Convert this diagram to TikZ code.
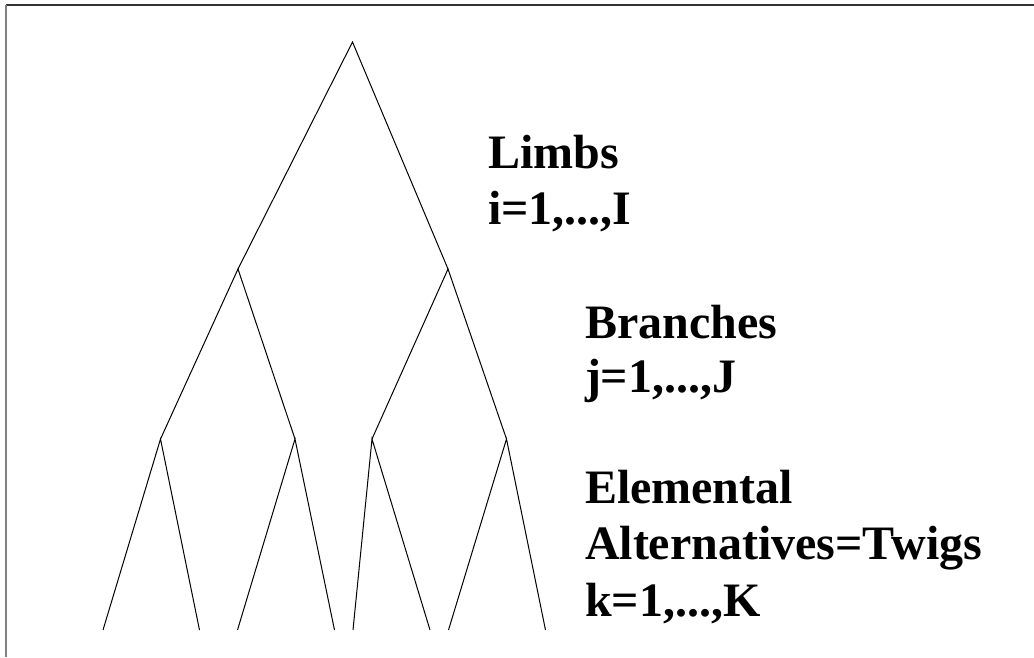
\documentclass[tikz,border=0pt]{standalone}
\usepackage{fontspec}
\setmainfont{Liberation Serif}
\tikzset{
  edge/.style={line width=1pt, black},
  label/.style={anchor=base west, inner sep=0pt, outer sep=0pt,
    font=\fontsize{48}{56}\selectfont\bfseries},
}
\begin{document}
\begin{tikzpicture}[x=1pt, y=-1pt]
\useasboundingbox (0,0) rectangle (1034,657);
% frame edges
\draw[line width=1.2pt, black!80] (6,5) -- (1034,5);
\draw[line width=1.6pt, black!50] (6,5) -- (6,657);
% tree levels
\coordinate (root) at (352.5,42);
\coordinate (a) at (238,269);
\coordinate (b) at (448,269);
\coordinate (aa) at (160.5,439);
\coordinate (ab) at (295,439);
\coordinate (ba) at (372,439);
\coordinate (bb) at (506.5,439);
\coordinate (t1) at (103,630);
\coordinate (t2) at (199.5,630);
\coordinate (t3) at (237.5,630);
\coordinate (t4) at (334.5,630);
\coordinate (t5) at (353,630);
\coordinate (t6) at (430,630);
\coordinate (t7) at (448.5,630);
\coordinate (t8) at (545.5,630);
\draw[edge] (a) -- (root) -- (b);
\draw[edge] (aa) -- (a) -- (ab);
\draw[edge] (ba) -- (b) -- (bb);
\draw[edge] (t1) -- (aa) -- (t2);
\draw[edge] (t3) -- (ab) -- (t4);
\draw[edge] (t5) -- (ba) -- (t6);
\draw[edge] (t7) -- (bb) -- (t8);
% level labels
\node[label] (limbs) at (488,168) {Limbs};
\node[label] (limbsidx) at (488,224) {i=1,...,I};
\node[label] (branches) at (585,338) {Branches};
\node[label] (branchesidx) at (585,392) {j=1,...,J};
\node[label] (elem) at (585,503) {Elemental};
\node[label] (alts) at (585,559) {Alternatives=Twigs};
\node[label] (twigidx) at (585,616) {k=1,...,K};
\end{tikzpicture}
\end{document}
